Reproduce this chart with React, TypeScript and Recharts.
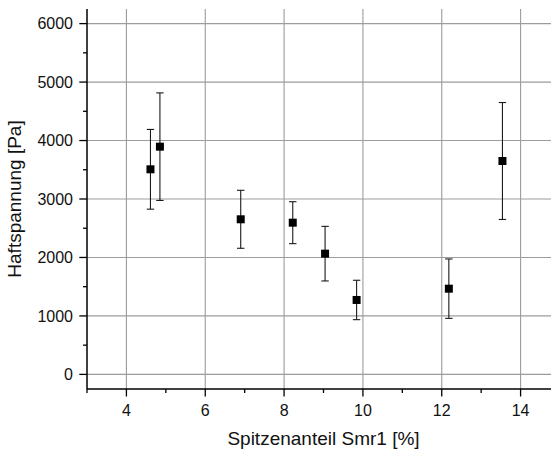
import React from 'react';
import {
  ScatterChart,
  Scatter,
  XAxis,
  YAxis,
  ZAxis,
  ErrorBar,
  ReferenceLine,
  Label,
} from 'recharts';

// Measured adhesion stress vs. peak fraction Smr1
const smr1 = [4.61, 4.85, 6.9, 8.22, 9.04, 9.84, 12.18, 13.54];
const haftspannung = [3508, 3895, 2653, 2595, 2065, 1273, 1466, 3650];
const abweichung = [682, 920, 496, 359, 467, 337, 508, 1000];

const xMajorTicks = [4, 6, 8, 10, 12, 14];
const xAllTicks = [3, 4, 5, 6, 7, 8, 9, 10, 11, 12, 13, 14, 15];
const yMajorTicks = [0, 1000, 2000, 3000, 4000, 5000, 6000];
const yAllTicks = [0, 500, 1000, 1500, 2000, 2500, 3000, 3500, 4000, 4500, 5000, 5500, 6000];

const data = smr1.map((x, i) => ({ x, y: haftspannung[i], err: abweichung[i] }));

const FONT = '"Liberation Sans", Arial, Helvetica, sans-serif';
const TEXT = '#111';
const GRID = '#9c9c9c';

const X_TICK_SIZE = 7;
const X_TICK_MARGIN = 8.7;
const Y_TICK_SIZE = 8;
const Y_TICK_MARGIN = 6;
const TOP_TICK_SIZE = 7;

function BottomTick(props: any) {
  const { x, y, payload } = props;
  const v = payload.value;
  const major = xMajorTicks.includes(v);
  const axisY = y - X_TICK_SIZE - X_TICK_MARGIN;
  return (
    <g>
      <line x1={x} x2={x} y1={axisY} y2={axisY + (major ? 7.5 : 4)} stroke="#000" strokeWidth={1.3} />
      {major && (
        <text x={x} y={y} dy="0.71em" textAnchor="middle" fontSize={16} fontFamily={FONT} fill={TEXT}>
          {v}
        </text>
      )}
    </g>
  );
}

function TopTick(props: any) {
  const { x, y, payload } = props;
  const major = xMajorTicks.includes(payload.value);
  const axisY = y - TOP_TICK_SIZE;
  return (
    <line x1={x} x2={x} y1={axisY} y2={axisY + (major ? 7 : 4)} stroke="#000" strokeWidth={1.3} />
  );
}

function LeftTick(props: any) {
  const { x, y, payload } = props;
  const v = payload.value;
  const major = yMajorTicks.includes(v);
  const axisX = x + Y_TICK_SIZE + Y_TICK_MARGIN;
  return (
    <g>
      <line x1={axisX - (major ? 7.7 : 4)} x2={axisX} y1={y} y2={y} stroke="#000" strokeWidth={1.3} />
      {major && (
        <text x={x} y={y} dy="0.355em" textAnchor="end" fontSize={16} fontFamily={FONT} fill={TEXT}>
          {v}
        </text>
      )}
    </g>
  );
}

export default function App() {
  return (
    <div
      style={{
        position: 'fixed',
        left: 0,
        top: 0,
        width: 551,
        height: 452,
        overflow: 'hidden',
        background: '#fff',
      }}
    >
      <ScatterChart width={600} height={452} margin={{ top: 9, right: 40, bottom: 0, left: 0 }}>
        <XAxis
          dataKey="x"
          type="number"
          domain={[3, 15]}
          ticks={xAllTicks}
          interval={0}
          height={63}
          tickSize={X_TICK_SIZE}
          tickMargin={X_TICK_MARGIN}
          tickLine={false}
          tick={<BottomTick />}
          axisLine={{ stroke: '#000', strokeWidth: 1.5 }}
        >
          <Label
            value="Spitzenanteil Smr1 [%]"
            position="insideBottom"
            offset={7.3}
            style={{ fontSize: 19, fontFamily: FONT, fill: TEXT }}
          />
        </XAxis>
        <XAxis
          xAxisId="top"
          orientation="top"
          mirror
          type="number"
          domain={[3, 15]}
          ticks={xAllTicks}
          interval={0}
          height={0}
          tickSize={TOP_TICK_SIZE}
          tickMargin={0}
          tickLine={false}
          tick={<TopTick />}
          axisLine={{ stroke: '#000', strokeWidth: 1.5 }}
        />
        <YAxis
          dataKey="y"
          type="number"
          domain={[-250, 6250]}
          ticks={yAllTicks}
          interval={0}
          width={87}
          tickSize={Y_TICK_SIZE}
          tickMargin={Y_TICK_MARGIN}
          tickLine={false}
          tick={<LeftTick />}
          axisLine={{ stroke: '#000', strokeWidth: 1.5 }}
        >
          <Label
            value="Haftspannung [Pa]"
            angle={-90}
            position="insideLeft"
            offset={14.2}
            style={{ textAnchor: 'middle', fontSize: 19, fontFamily: FONT, fill: TEXT }}
          />
        </YAxis>
        <ZAxis range={[64, 64]} />
        {xMajorTicks.map((v) => (
          <ReferenceLine key={`gx${v}`} x={v} stroke={GRID} strokeWidth={1.1} />
        ))}
        {yMajorTicks.map((v) => (
          <ReferenceLine key={`gy${v}`} y={v} stroke={GRID} strokeWidth={1.1} />
        ))}
        <Scatter data={data} fill="#000" shape="square" isAnimationActive={false}>
          <ErrorBar dataKey="err" direction="y" width={3.7} stroke="#1a1a1a" strokeWidth={1.1} />
        </Scatter>
      </ScatterChart>
    </div>
  );
}
